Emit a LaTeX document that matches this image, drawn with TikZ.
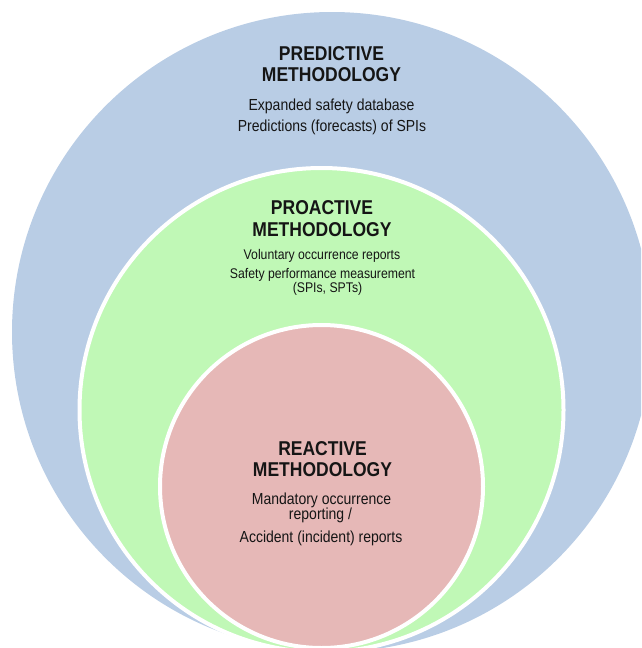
\documentclass[tikz,border=0pt]{standalone}
\usepackage{fontspec}
\setmainfont{Liberation Sans}[FakeStretch=0.875]
\definecolor{predblue}{HTML}{B9CDE5}
\definecolor{progreen}{HTML}{C0F8B6}
\definecolor{reared}{HTML}{E6B8B7}
\definecolor{txt}{HTML}{151515}
\tikzset{
  ring/.style={draw=white, line width=4pt},
  ttl/.style={font=\fontsize{20}{24}\selectfont\bfseries, anchor=base, inner sep=0pt, text=txt},
  bodyA/.style={font=\fontsize{16}{19}\selectfont, anchor=base, inner sep=0pt, text=txt},
  bodyB/.style={font=\fontsize{14}{17}\selectfont, anchor=base, inner sep=0pt, text=txt},
  bodyC/.style={font=\fontsize{16}{19}\selectfont, anchor=base, inner sep=0pt, text=txt}
}
\begin{document}
\begin{tikzpicture}[x=1pt,y=-1pt]
\useasboundingbox (0,0) rectangle (641,648);
\begin{scope}
\clip (0,0) rectangle (641,648);
\fill[predblue] (332,332) circle[radius=320];
\filldraw[fill=progreen, ring] (321.5,410) circle[radius=242];
\filldraw[fill=reared, ring] (321.5,486.5) circle[radius=161.5];
\end{scope}
% predictive
\node[ttl] (p1) at (331.5,60.5) {PREDICTIVE};
\node[ttl] (p2) at (331.5,81.5) {METHODOLOGY};
\node[bodyA] (p3) at (331.5,110) {Expanded safety database};
\node[bodyA] (p4) at (332,131) {Predictions (forecasts) of SPIs};
% proactive
\node[ttl] (q1) at (322,214.5) {PROACTIVE};
\node[ttl] (q2) at (322,236) {METHODOLOGY};
\node[bodyB] (q3) at (322,259) {Voluntary occurrence reports};
\node[bodyB] (q4) at (322.5,278.5) {Safety performance measurement};
\node[bodyB] (q5) at (327.5,292.5) {(SPIs, SPTs)};
% reactive
\node[ttl] (r1) at (322.5,455) {REACTIVE};
\node[ttl] (r2) at (322.5,476.5) {METHODOLOGY};
\node[bodyC] (r3) at (321.5,504) {Mandatory occurrence};
\node[bodyC] (r4) at (320.5,519) {reporting /};
\node[bodyC] (r5) at (321,542.5) {Accident (incident) reports};
\end{tikzpicture}
\end{document}
